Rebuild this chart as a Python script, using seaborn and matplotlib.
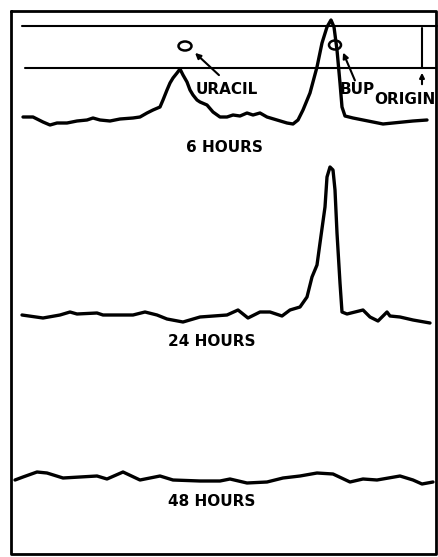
import matplotlib
matplotlib.use("Agg")
import matplotlib.pyplot as plt
import seaborn as sns
import pandas as pd
from matplotlib.patches import Ellipse

# Scanned trace positions (x along strip, y measured down the page)
x_6h = [23, 33, 43, 50, 57, 67, 77, 87, 93, 100, 110, 120, 133, 140, 147, 153, 160, 163, 167, 170, 173,
        177, 180, 183, 187, 190, 193, 197, 200, 207, 213, 220, 227, 233, 240, 247, 253, 260, 267, 277,
        287, 293, 298, 303, 310, 317, 322, 327, 331, 334, 337, 340, 342, 345, 353, 363, 373, 383, 393,
        403, 413, 427]
y_6h = [117, 117, 122, 125, 123, 123, 121, 120, 118, 120, 121, 119, 118, 117, 113, 110, 107, 100, 90, 83,
        78, 73, 69, 75, 82, 90, 95, 100, 102, 105, 112, 117, 117, 115, 116, 113, 115, 113, 117, 120,
        123, 124, 120, 110, 93, 67, 43, 27, 20, 27, 50, 83, 107, 116, 118, 120, 122, 124, 123, 122,
        121, 120]

x_24h = [22, 43, 60, 70, 77, 97, 103, 133, 145, 157, 167, 183, 200, 227, 238, 248, 260, 270, 282, 290,
         300, 307, 312, 317, 320, 325, 327, 330, 333, 335, 337, 340, 342, 347, 363, 370, 378, 387, 390,
         400, 413, 430]
y_24h = [315, 318, 315, 312, 314, 313, 315, 315, 312, 315, 319, 322, 317, 315, 310, 318, 312, 312, 316, 310,
         307, 297, 277, 265, 243, 207, 177, 167, 170, 190, 233, 283, 312, 314, 310, 317, 321, 312, 316,
         317, 320, 323]

x_48h = [15, 23, 37, 47, 63, 80, 97, 107, 123, 140, 160, 173, 200, 220, 230, 247, 267, 283, 300, 317,
         333, 350, 363, 377, 400, 413, 422, 433]
y_48h = [480, 477, 472, 473, 478, 477, 476, 479, 472, 480, 476, 480, 481, 481, 479, 483, 482, 478, 476, 473,
         474, 482, 479, 480, 476, 480, 484, 482]

sample_labels = ["6 HOURS", "24 HOURS", "48 HOURS"]
label_x = [224, 212, 212]
label_y = [147, 341, 502]

sns.set_style("white")
fig = plt.figure(figsize=(4.38, 5.57), dpi=100)
ax = fig.add_axes([0, 0, 1, 1])

# outer frame
ax.plot([11, 436, 436, 11, 11], [11, 11, 554, 554, 11], color="black", lw=2)

# solvent front / origin reference lines
ax.plot([22, 437], [26, 26], color="black", lw=1.5)
ax.plot([25, 436], [68, 68], color="black", lw=1.5)

for xs, ys in [(x_6h, y_6h), (x_24h, y_24h), (x_48h, y_48h)]:
    df = pd.DataFrame({"x": xs, "y": ys})
    sns.lineplot(data=df, x="x", y="y", ax=ax, color="black", lw=2.4, sort=False, estimator=None)
ax.set_xlim(0, 438)
ax.set_ylim(557, 0)
ax.axis("off")

for lab, lx, ly in zip(sample_labels, label_x, label_y):
    ax.text(lx, ly, lab, ha="center", va="center", fontsize=11, fontweight="bold", color="black")

# spot markers
ax.add_patch(Ellipse((185, 46), 13, 9, fill=False, ec="black", lw=1.8))
ax.add_patch(Ellipse((335, 45), 12, 9, fill=False, ec="black", lw=1.8))
ax.annotate("", xy=(193, 51), xytext=(221, 77),
            arrowprops=dict(arrowstyle="-|>", color="black", lw=1.5, mutation_scale=8))
ax.annotate("", xy=(342, 50), xytext=(356, 83),
            arrowprops=dict(arrowstyle="-|>", color="black", lw=1.5, mutation_scale=8))

ax.text(227, 89, "URACIL", ha="center", va="center", fontsize=11, fontweight="bold", color="black")
ax.text(357, 90, "BUP", ha="center", va="center", fontsize=11, fontweight="bold", color="black")
ax.text(405, 99, "ORIGIN", ha="center", va="center", fontsize=11, fontweight="bold", color="black")

# origin marker
ax.plot([422, 422], [28, 68], color="black", lw=1.5)
ax.annotate("", xy=(422, 70), xytext=(422, 87),
            arrowprops=dict(arrowstyle="-|>", color="black", lw=1.5, mutation_scale=7))

fig.savefig("out.png", dpi=100)
